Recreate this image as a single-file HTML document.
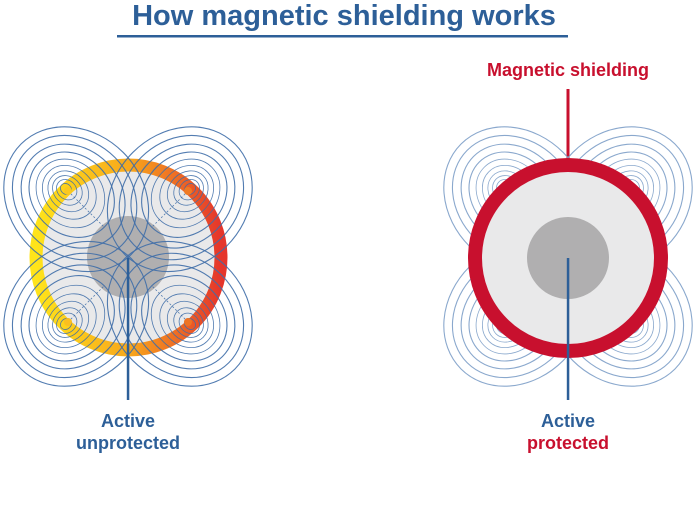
<!DOCTYPE html>
<html><head><meta charset="utf-8"><style>
html,body{margin:0;padding:0;background:#fff;}
svg{display:block;}
text{font-family:"Liberation Sans",sans-serif;font-weight:bold;}
</style></head><body>
<svg id="s" width="698" height="513" viewBox="0 0 698 513" xmlns="http://www.w3.org/2000/svg">
<defs>
<linearGradient id="g" x1="0" y1="0" x2="1" y2="0">
<stop offset="0" stop-color="#ffe41a"/>
<stop offset="0.5" stop-color="#f8a81c"/>
<stop offset="1" stop-color="#e5352b"/>
</linearGradient>
</defs>
<text x="344" y="25" text-anchor="middle" font-size="29" fill="#2d5f98">How magnetic shielding works</text>
<rect x="117" y="35" width="451" height="2.5" fill="#2d5f98"/>
<text x="568" y="76" text-anchor="middle" font-size="18" fill="#c8102e">Magnetic shielding</text>
<rect x="566.5" y="89" width="3" height="72" fill="#c8102e"/>
<g id="rightloops"></g>
<circle cx="568" cy="258" r="93" fill="#e9e9ea" stroke="#c8102e" stroke-width="14"/>
<circle cx="568" cy="258" r="41" fill="#b0afb0"/>
<rect x="566.8" y="258" width="2.5" height="142" fill="#2d5f98"/>

<circle cx="128.5" cy="257.5" r="92.5" fill="#e9e9ea" stroke="url(#g)" stroke-width="13"/>
<circle cx="128" cy="257" r="41" fill="#b0afb0"/>
<g id="leftloops"></g>
<circle cx="68" cy="191" r="4" fill="#fbc81f"/>
<circle cx="188" cy="191" r="4" fill="#ef7a24"/>
<circle cx="68" cy="322" r="4" fill="#fbbf1f"/>
<circle cx="188" cy="322" r="4" fill="#ee7324"/>
<rect x="126.8" y="258" width="2.5" height="142" fill="#2d5f98"/>

<text x="128" y="427" text-anchor="middle" font-size="18" fill="#2d5f98">Active</text>
<text x="128" y="449" text-anchor="middle" font-size="18" fill="#2d5f98">unprotected</text>
<text x="568" y="427" text-anchor="middle" font-size="18" fill="#2d5f98">Active</text>
<text x="568" y="449" text-anchor="middle" font-size="18" fill="#c8102e">protected</text>
</svg>
<script>
function loops(gid, cx, cy, color, op){
  var g=document.getElementById(gid), h="";
  var dots=[[-60,-67,-1,-1],[60,-67,1,-1],[-60,64,-1,1],[60,64,1,1]];
  var radii=[6,11,16,22,29,37,46,56,67,78];
  dots.forEach(function(d){
    var px=cx+d[0], py=cy+d[1], ux=d[2]*0.7071, uy=d[3]*0.7071;
    var ang = (d[2]*d[3]>0)?45:-45;
    radii.forEach(function(r){
      var inward=0.2*r-4;
      var ex=px-ux*inward, ey=py-uy*inward;
      var w=(r>40?1.1:0.8);
      h+='<ellipse cx="'+ex.toFixed(1)+'" cy="'+ey.toFixed(1)+'" rx="'+r+'" ry="'+(r*0.85).toFixed(1)+'" transform="rotate('+ang+' '+ex.toFixed(1)+' '+ey.toFixed(1)+')" fill="none" stroke="'+color+'" stroke-width="'+w+'" opacity="'+op+'"/>';
    });
    h+='<line x1="'+px+'" y1="'+py+'" x2="'+(px-ux*50)+'" y2="'+(py-uy*50)+'" stroke="'+color+'" stroke-width="0.8" stroke-dasharray="2 2" opacity="'+op+'"/>';
  });
  g.innerHTML=h;
}
loops("leftloops",128,258,"#3f6ea8",0.9);
loops("rightloops",568,258,"#7d9fc8",0.9);
</script>
</body></html>
